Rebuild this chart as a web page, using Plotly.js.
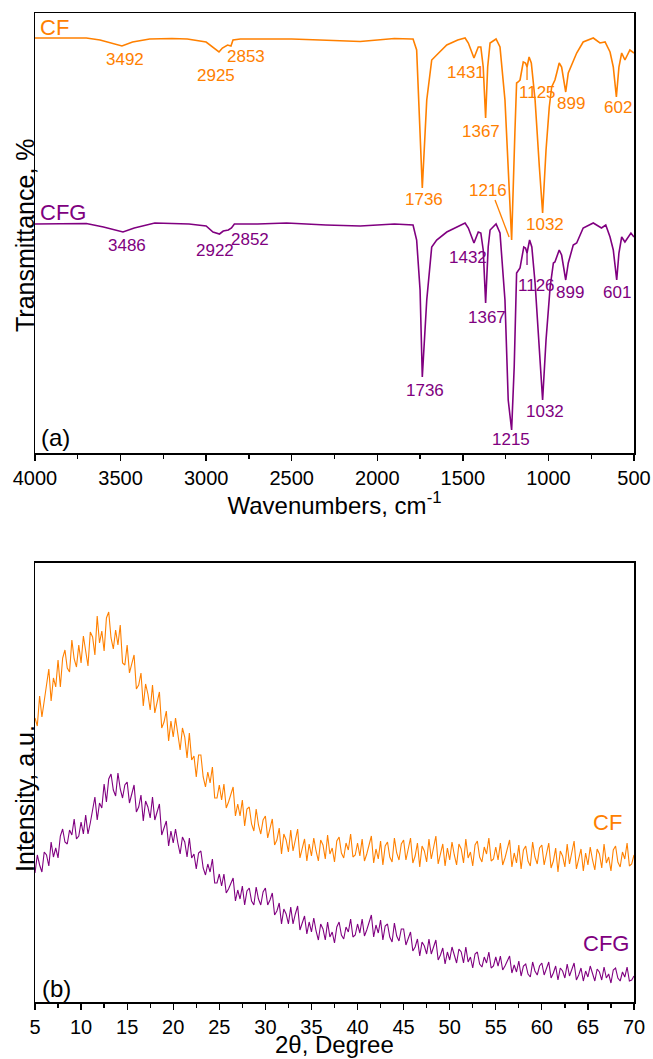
<!DOCTYPE html>
<html><head><meta charset="utf-8">
<script src="https://cdn.plot.ly/plotly-3.0.1.min.js"></script>
<style>html,body{margin:0;padding:0;background:#fff}#chart{width:653px;height:1059px}</style>
</head><body><div id="chart"></div>
<script>
// ---------- (a) FTIR spectra ----------
const cfWavenumber = [4000,3900,3800,3700,3620,3560,3492,3430,3330,3200,3110,3000,2965,2945,2925,2905,2875,2855,2843,2800,2645,2500,2335,2200,2100,2000,1900,1800,1791,1770,1750,1737,1711,1682,1653,1594,1530,1487,1468,1435,1410,1395,1381,1367,1355,1341,1306,1283,1254,1229,1215,1196,1186,1177,1166,1147,1134,1125,1113,1100,1078,1053,1034,1014,995,981,962,950,937,923,899,884,855,835,797,738,699,669,640,621,603,588,572,553,524,500];
const cfTransmittance = [415,415,415.5,415,413,410,407,411,414,414.5,414,411,406,403,401,405,408,407,413,414,414,414,413,412,411.5,413,414.5,414,414,403,323,265,353,393,398,408,413,415,410,395,406,406,386,335,386,410,414,406,353,253,213,320,370,371,373,391,390,386,396,390,353,286,240,303,346,366,373,381,390,386,361,380,391,400,411,415,410,411,401,386,356,386,400,393,403,400];

const cfgWavenumber = [4000,3800,3700,3600,3530,3486,3420,3300,3100,3000,2960,2930,2922,2900,2870,2852,2835,2700,2530,2300,2100,2000,1900,1791,1770,1750,1737,1711,1682,1653,1594,1487,1468,1435,1410,1395,1381,1367,1352,1341,1306,1283,1254,1235,1215,1200,1186,1166,1144,1134,1125,1110,1097,1078,1053,1034,1014,990,971,962,937,923,899,884,855,835,797,738,690,665,640,621,601,588,572,553,518,500];
const cfgTransmittance = [229,229,229.5,226,223,221,225,230,229,227,221,220,219,222,223,225,229,229,230,228,227,228,229,228,213,163,76,153,206,213,221,230,225,210,221,220,203,150,206,223,229,220,153,53,23,86,180,185,206,205,200,213,206,170,103,53,113,166,190,191,203,198,173,190,208,210,225,230,225,228,216,203,173,200,216,211,220,216];

// ---------- (b) XRD patterns (2θ from 5° to 70°, 0.25° steps) ----------
const xrdStart = 5;
const xrdStep = 0.25;
const cfIntensity = [
284,276,306,285,301,317,333,301,324,315,342,315,344,352,334,330,362,343,335,357,
339,366,349,336,370,365,347,386,359,371,351,384,390,364,353,372,357,377,339,337,
357,329,338,347,313,317,329,296,318,308,292,317,289,300,310,274,280,291,261,281,
265,284,266,252,274,265,244,269,242,246,225,247,247,225,215,230,219,235,204,204,
217,202,218,194,200,208,215,186,198,186,202,176,193,195,178,171,193,177,168,182,
186,164,174,183,157,162,174,148,168,162,150,172,151,162,173,144,153,163,141,158,
146,164,151,141,162,157,143,167,148,154,140,161,165,149,144,159,152,168,145,147,
159,146,163,141,148,157,166,139,153,143,161,137,156,160,145,140,164,149,142,158,
162,142,153,164,139,146,159,135,156,151,140,163,143,155,166,138,147,158,136,154,
142,160,147,137,158,153,139,163,144,150,136,157,161,145,140,155,148,164,141,143,
155,142,159,137,144,153,162,135,149,139,157,133,152,156,141,136,160,145,138,154,
157,137,148,159,134,141,154,130,151,146,135,158,138,150,161,133,142,153,131,149,
137,155,142,132,153,148,134,158,139,145,131,152,156,140,135,150,143,159,136,138,
147];
const cfgIntensity = [
129,147,137,130,150,147,136,160,145,154,144,166,173,160,158,172,167,183,163,166,
180,168,187,168,179,192,205,182,199,194,218,200,223,228,212,206,229,213,204,217,
220,199,208,217,190,195,207,181,201,195,184,205,182,191,198,167,173,181,156,171,
159,173,159,148,165,160,145,164,144,148,133,149,151,134,127,138,130,143,119,119,
128,116,128,109,113,119,124,101,112,103,116,97,111,114,101,97,115,103,97,110,
114,97,102,109,87,91,99,78,93,88,78,95,78,88,96,72,79,86,68,80,
70,84,71,62,78,73,62,80,65,70,59,75,80,67,63,75,70,83,65,67,
78,69,83,66,72,80,87,65,77,69,82,62,76,78,65,60,79,66,61,73,
73,57,64,70,51,55,63,46,60,56,48,63,48,56,62,42,47,54,38,50,
42,55,46,39,53,50,39,55,40,45,34,48,50,38,35,45,39,50,34,36,
45,36,46,32,36,41,46,29,37,30,41,26,36,38,28,25,40,31,27,36,
39,27,34,40,24,29,36,22,34,31,24,38,26,33,39,22,27,34,21,31,
25,36,27,21,33,30,22,35,24,28,19,32,34,24,21,30,25,35,21,22,
26];

// ---------- peak labels ----------
const cfPeakText = ['3492','2925','2853','1431','1367','1736','1216','1125','899','602','1032'];
const cfPeakX    = [3474,2942,2767,1482,1394,1727,1353,1061,868,594,1020];
const cfPeakY    = [394,378,397,381,322,254,263,361,350,346,229];
const cfgPeakText = ['3486','2922','2852','1432','1367','1736','1215','1032','1126','899','601'];
const cfgPeakX    = [3462,2948,2744,1470,1359,1721,1219,1020,1067,874,599];
const cfgPeakY    = [208,203,214,196,136,63,14,42,168,161,161];

const FONT = '"Liberation Sans", Arial, Helvetica, sans-serif';
const ORANGE = '#FF8000';
const PURPLE = '#800080';

const traces = [
  {x: cfWavenumber, y: cfTransmittance, xaxis:'x', yaxis:'y', mode:'lines', line:{color:ORANGE, width:1.6}, name:'CF'},
  {x: cfgWavenumber, y: cfgTransmittance, xaxis:'x', yaxis:'y', mode:'lines', line:{color:PURPLE, width:1.6}, name:'CFG'},
  {x0: xrdStart, dx: xrdStep, y: cfIntensity, xaxis:'x2', yaxis:'y2', mode:'lines', line:{color:ORANGE, width:1.1}, name:'CF'},
  {x0: xrdStart, dx: xrdStep, y: cfgIntensity, xaxis:'x2', yaxis:'y2', mode:'lines', line:{color:PURPLE, width:1.1}, name:'CFG'}
];

const ann = [];
cfPeakText.forEach((t,i)=>ann.push({xref:'x',yref:'y',x:cfPeakX[i],y:cfPeakY[i],text:t,showarrow:false,xanchor:'center',yanchor:'middle',font:{size:17,color:ORANGE}}));
cfgPeakText.forEach((t,i)=>ann.push({xref:'x',yref:'y',x:cfgPeakX[i],y:cfgPeakY[i],text:t,showarrow:false,xanchor:'center',yanchor:'middle',font:{size:17,color:PURPLE}}));
ann.push({xref:'x',yref:'y',x:3985,y:426,text:'CF',showarrow:false,xanchor:'left',yanchor:'middle',font:{size:22,color:ORANGE}});
ann.push({xref:'x',yref:'y',x:3985,y:241,text:'CFG',showarrow:false,xanchor:'left',yanchor:'middle',font:{size:22,color:PURPLE}});
ann.push({xref:'x',yref:'y',x:3975,y:16,text:'(a)',showarrow:false,xanchor:'left',yanchor:'middle',font:{size:24,color:'#000'}});
ann.push({xref:'x2',yref:'y2',x:67.07,y:179,text:'CF',showarrow:false,xanchor:'center',yanchor:'middle',font:{size:22,color:ORANGE}});
ann.push({xref:'x2',yref:'y2',x:66.96,y:58,text:'CFG',showarrow:false,xanchor:'center',yanchor:'middle',font:{size:22,color:PURPLE}});
ann.push({xref:'x2',yref:'y2',x:5.5,y:14,text:'(b)',showarrow:false,xanchor:'left',yanchor:'middle',font:{size:24,color:'#000'}});
// axis titles placed as annotations so they sit exactly where the reference has them
ann.push({xref:'paper',yref:'paper',x:-0.0167,y:0.7755,text:'Transmittance, %',textangle:-90,showarrow:false,xanchor:'center',yanchor:'middle',font:{size:25,color:'#000'}});
ann.push({xref:'paper',yref:'paper',x:-0.0167,y:0.2063,text:'Intensity, a.u.',textangle:-90,showarrow:false,xanchor:'center',yanchor:'middle',font:{size:25,color:'#000'}});
ann.push({xref:'paper',yref:'paper',x:0.5,y:-0.0425,text:'2θ, Degree',showarrow:false,xanchor:'center',yanchor:'middle',font:{size:24,color:'#000'}});

const shapes = [
  {type:'line', xref:'x', yref:'y', x0:1312, y0:253, x1:1230, y1:216, line:{color:ORANGE, width:1.3}},
  {type:'line', xref:'x', yref:'y', x0:1125, y0:386, x1:1125, y1:373, line:{color:ORANGE, width:1.3}},
  {type:'line', xref:'x', yref:'y', x0:1125, y0:201, x1:1125, y1:188, line:{color:PURPLE, width:1.3}}
];

const axisCommon = {showline:true, mirror:true, linecolor:'#000', linewidth:1.5, showgrid:false, zeroline:false};
const layout = {
  width:653, height:1059,
  margin:{l:35, r:19, t:13, b:57},
  showlegend:false,
  paper_bgcolor:'#fff', plot_bgcolor:'#fff',
  font:{family:FONT, color:'#000'},
  xaxis: Object.assign({}, axisCommon, {
    domain:[0,1], anchor:'y', range:[4000,500], tick0:500, dtick:500,
    ticks:'outside', ticklen:6, tickwidth:1.3, tickcolor:'#000',
    minor:{dtick:250, tick0:500, ticks:'outside', ticklen:4, tickwidth:1.3, tickcolor:'#000', showgrid:false},
    tickfont:{size:20, family:FONT, color:'#000'},
    title:{text:'Wavenumbers, cm<sup>-1</sup>', font:{size:24, family:FONT, color:'#000'}, standoff:0}
  }),
  yaxis: Object.assign({}, axisCommon, {
    domain:[0.5551,1], anchor:'x', range:[0,440], showticklabels:false, ticks:''
  }),
  xaxis2: Object.assign({}, axisCommon, {
    domain:[0,1], anchor:'y2', range:[5,70], tick0:5, dtick:5,
    ticks:'outside', ticklen:6, tickwidth:1.3, tickcolor:'#000',
    minor:{dtick:2.5, tick0:5, ticks:'outside', ticklen:4, tickwidth:1.3, tickcolor:'#000', showgrid:false},
    tickfont:{size:20, family:FONT, color:'#000'}
  }),
  yaxis2: Object.assign({}, axisCommon, {
    domain:[0,0.4439], anchor:'x2', range:[0,439], showticklabels:false, ticks:''
  }),
  annotations: ann,
  shapes: shapes
};

Plotly.newPlot('chart', traces, layout, {displayModeBar:false, staticPlot:true});
</script>
</body></html>
